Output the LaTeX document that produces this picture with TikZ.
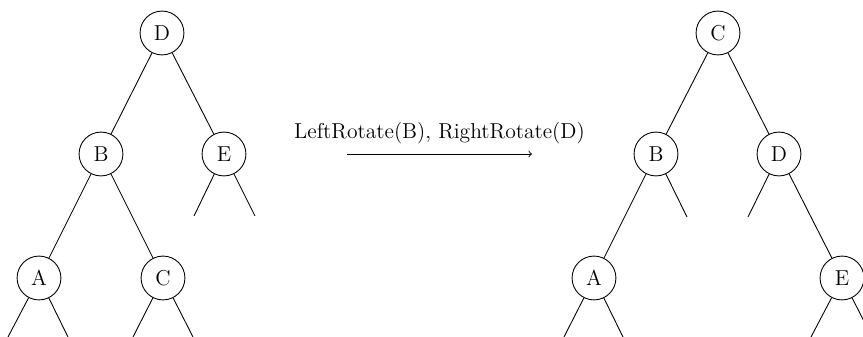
\documentclass[tikz,border=0pt]{standalone}
\begin{document}
\begin{tikzpicture}[x=0.57pt,y=-0.57pt,
  every node/.style={font=\fontsize{12.3}{14}\selectfont},
  treenode/.style={circle,draw,line width=0.5pt,minimum size=25pt,inner sep=0pt},
  edge/.style={line width=0.5pt}]
\useasboundingbox (0,0) rectangle (863,337);
\clip (0,0) rectangle (863,337);
% left tree
\node[treenode] (lD) at (162,33) {D};
\node[treenode] (lB) at (101,154) {B};
\node[treenode] (lE) at (224,154) {E};
\node[treenode] (lA) at (39,278) {A};
\node[treenode] (lC) at (163,278) {C};
\coordinate (lE1) at (194,216);
\coordinate (lE2) at (255,216);
\coordinate (lA1) at (8,337);
\coordinate (lA2) at (68,337);
\coordinate (lC1) at (133,337);
\coordinate (lC2) at (193,337);
\draw[edge] (lD) -- (lB);
\draw[edge] (lD) -- (lE);
\draw[edge] (lB) -- (lA);
\draw[edge] (lB) -- (lC);
\draw[edge] (lE) -- (lE1);
\draw[edge] (lE) -- (lE2);
\draw[edge] (lA) -- (lA1);
\draw[edge] (lA) -- (lA2);
\draw[edge] (lC) -- (lC1);
\draw[edge] (lC) -- (lC2);
% arrow
\coordinate (a1) at (347,154);
\coordinate (a2) at (532,154);
\draw[edge,->] (a1) -- (a2);
\node (lbl) at (439.5,133) {LeftRotate(B), RightRotate(D)};
% right tree
\node[treenode] (rC) at (718,33) {C};
\node[treenode] (rB) at (656,154) {B};
\node[treenode] (rD) at (779,154) {D};
\node[treenode] (rA) at (594,278) {A};
\node[treenode] (rE) at (842,278) {E};
\coordinate (rB1) at (687,217);
\coordinate (rD1) at (748,217);
\coordinate (rA1) at (564,337);
\coordinate (rA2) at (623,337);
\coordinate (rE1) at (811,337);
\coordinate (rE2) at (872,337);
\draw[edge] (rC) -- (rB);
\draw[edge] (rC) -- (rD);
\draw[edge] (rB) -- (rA);
\draw[edge] (rD) -- (rE);
\draw[edge] (rB) -- (rB1);
\draw[edge] (rD) -- (rD1);
\draw[edge] (rA) -- (rA1);
\draw[edge] (rA) -- (rA2);
\draw[edge] (rE) -- (rE1);
\draw[edge] (rE) -- (rE2);
\end{tikzpicture}
\end{document}
